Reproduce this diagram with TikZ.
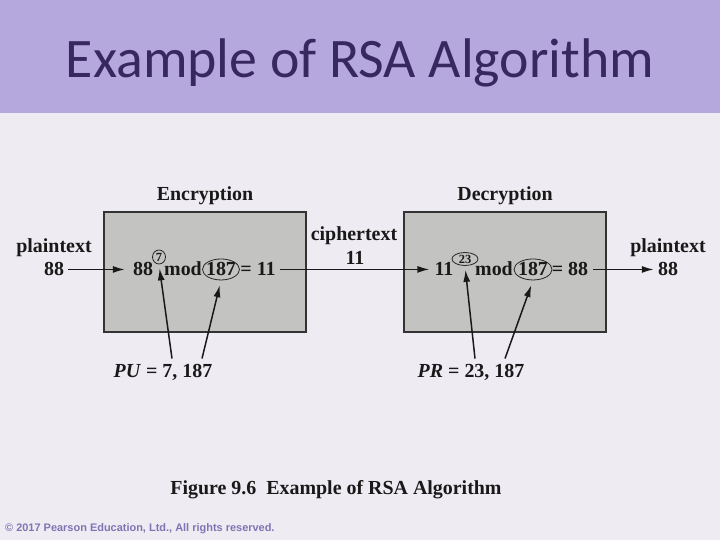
\documentclass[tikz,border=0pt]{standalone}
\usepackage{fontspec}
\setmainfont{Liberation Serif}
\newfontfamily\slidefont{Carlito}
\newfontfamily\notefont{Liberation Sans}
\usetikzlibrary{positioning,arrows.meta,shapes.geometric}
\definecolor{band}{HTML}{B5A8DC}
\definecolor{page}{HTML}{EEECF2}
\definecolor{titleink}{HTML}{372860}
\definecolor{boxgray}{HTML}{C3C3C1}
\definecolor{noteink}{HTML}{8273B4}

\begin{document}
\begin{tikzpicture}[
  x=1bp, y=-1bp,
  ->,>={Latex[length=12bp,width=7bp]},
  every node/.style={inner sep=0pt},
  txt/.style={font=\fontsize{20}{22}\selectfont\bfseries, text=black!90},
  tiny/.style={font=\fontsize{12.5}{12.5}\selectfont\bfseries, text=black!90},
  stage/.style={draw=black!80, line width=2.4bp, fill=boxgray,
                minimum width=202bp, minimum height=120bp},
  key/.style={draw=black!85, ellipse, line width=0.8bp},
  flow/.style={line width=1.5bp, black!90},
]
  \useasboundingbox (0,0) rectangle (720,540);
  \fill[page] (0,0) rectangle (720,540);
  \fill[band] (0,0) rectangle (720,113);
  \node[font=\slidefont\fontsize{56}{60}\selectfont, text=titleink, anchor=base]
    (title) at (360,78) {Example of RSA Algorithm};

  % Boxes
  \node[stage] (enc) at (205,272) {};
  \node[stage] (dec) at (505,272) {};
  \node[txt, above=6bp of enc] {Encryption};
  \node[txt, above=6bp of dec] {Decryption};

  % Outside labels
  \node[txt, anchor=base] (pin)  at (54,253)  {plaintext};
  \node[txt, anchor=base] (pin88) at (54,276) {88};
  \node[txt, anchor=base] (ct)   at (354,241) {ciphertext};
  \node[txt, anchor=base] (ct11) at (355,265) {11};
  \node[txt, anchor=base] (pout) at (668,253) {plaintext};
  \node[txt, anchor=base] (pout88) at (668,276) {88};

  % Encryption: 88^7 mod 187 = 11
  \node[txt, anchor=base] (m1)  at (143,276) {88};
  \node[tiny] (t7) at (159,257) {7};
  \node[key, minimum width=13bp, minimum height=14bp] (e7) at (t7) {};
  \node[txt, anchor=base] (mod1) at (183,276) {mod};
  \node[txt, anchor=base] (t1) at (221,276) {187};
  \node[key, minimum width=37bp, minimum height=21bp] (n1) at (t1) {};
  \node[txt, anchor=base] (c1)  at (258,276) {= 11};

  % Decryption: 11^23 mod 187 = 88
  \node[txt, anchor=base] (c2)  at (444,276) {11};
  \node[tiny] (t23) at (465,259) {23};
  \node[key, minimum width=26bp, minimum height=13bp] (d23) at (t23) {};
  \node[txt, anchor=base] (mod2) at (494,276) {mod};
  \node[txt, anchor=base] (t2) at (533,276) {187};
  \node[key, minimum width=38bp, minimum height=21bp] (n2) at (t2) {};
  \node[txt, anchor=base] (m2)  at (570,276) {= 88};

  % Keys
  \node[txt, anchor=base] (pu) at (163,377) {\textit{PU} = 7, 187};
  \node[txt, anchor=base] (pr) at (471,377) {\textit{PR} = 23, 187};

  % Flow
  \draw[flow, shorten <=4bp, shorten >=8bp] (pin88) -- (m1);
  \draw[flow, shorten <=4bp, shorten >=5bp] (c1) -- (c2);
  \draw[flow, shorten <=5bp, shorten >=4bp] (m2) -- (pout88);
  \draw[flow, shorten >=4bp] ([xshift=9bp,yshift=5bp]pu.north) -- (e7.south);
  \draw[flow, shorten >=5bp] ([xshift=39bp,yshift=5bp]pu.north) -- (n1.south);
  \draw[flow, shorten >=4bp] ([xshift=4bp,yshift=5bp]pr.north) -- (d23.south);
  \draw[flow, shorten >=5bp] ([xshift=34bp,yshift=5bp]pr.north) -- (n2.south);

  % Caption and notice
  \node[txt, anchor=base] (caption) at (336,494)
    {Figure 9.6\enspace Example of RSA Algorithm};
  \node[font=\notefont\bfseries\fontsize{11}{11}\selectfont, text=noteink,
        anchor=base west] (notice) at (5,531)
    {\textcopyright{} 2017 Pearson Education, Ltd., All rights reserved.};
\end{tikzpicture}
\end{document}
